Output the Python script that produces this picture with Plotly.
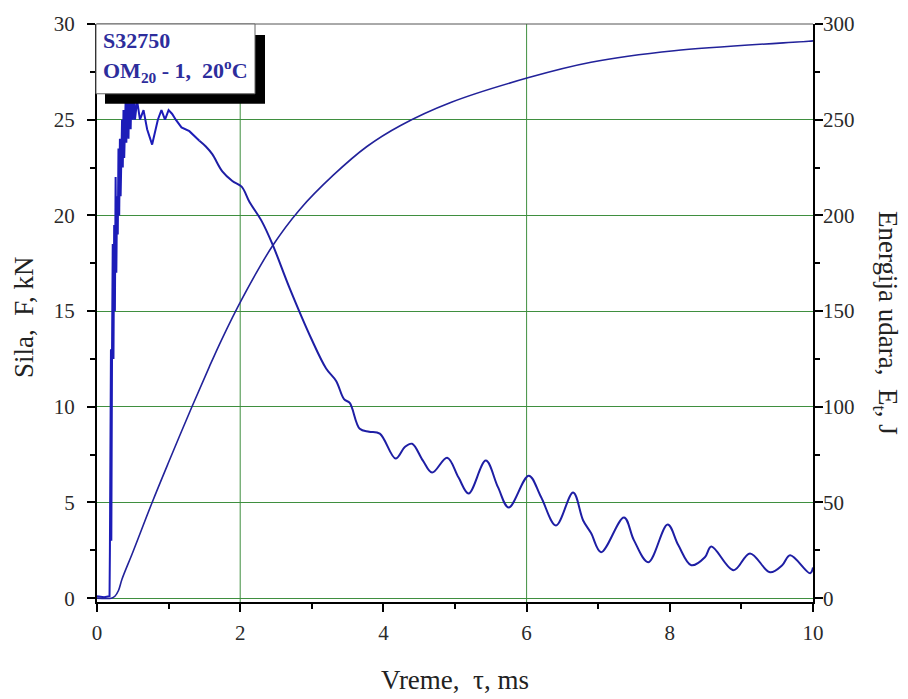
import plotly.graph_objects as go

# ---- data ----
t_force = [0.0, 0.10, 0.17, 0.175, 0.18, 0.185, 0.19, 0.195, 0.20, 0.205, 0.21, 0.22,
           0.23, 0.24, 0.25, 0.26, 0.27, 0.28, 0.29, 0.30, 0.31, 0.32, 0.33, 0.35,
           0.36, 0.37, 0.38, 0.40, 0.41, 0.42, 0.44, 0.45, 0.47, 0.48, 0.50, 0.52,
           0.53, 0.56, 0.60, 0.65, 0.70, 0.77, 0.85, 0.90, 0.95, 1.00, 1.05, 1.10,
           1.18, 1.29, 1.43, 1.52, 1.61, 1.75, 1.89, 2.02, 2.13, 2.30, 2.45, 2.69,
           3.00, 3.20, 3.34, 3.45, 3.53, 3.67, 3.80, 3.95, 4.17, 4.30, 4.40, 4.55,
           4.68, 4.89, 5.05, 5.19, 5.43, 5.60, 5.75, 6.03, 6.20, 6.41, 6.65, 6.79,
           6.90, 7.04, 7.36, 7.50, 7.70, 7.97, 8.12, 8.30, 8.49, 8.58, 8.89, 9.12,
           9.40, 9.57, 9.68, 9.96, 10.0]
force_kN = [0.1, 0.05, 0.1, 0.1, 2.4, 13.0, 2.4, 13.0, 3.0, 12.5, 13.0, 18.5,
            12.5, 19.5, 15.0, 22.0, 17.0, 21.0, 19.0, 23.5, 20.0, 24.0, 21.0, 25.0,
            22.5, 25.5, 23.0, 26.0, 23.8, 26.3, 24.0, 26.5, 24.5, 26.3, 25.0, 26.2,
            25.0, 26.0, 25.0, 25.5, 24.5, 23.7, 25.0, 25.5, 25.0, 25.5, 25.3, 25.0,
            24.6, 24.4, 23.9, 23.6, 23.2, 22.3, 21.8, 21.5, 20.7, 19.7, 18.5, 16.2,
            13.5, 12.0, 11.35, 10.4, 10.2, 8.85, 8.7, 8.6, 7.3, 7.9, 8.07, 7.2,
            6.56, 7.34, 6.3, 5.47, 7.19, 5.8, 4.74, 6.4, 5.3, 3.8, 5.52, 4.06,
            3.4, 2.4, 4.22, 3.02, 1.88, 3.85, 2.76, 1.72, 2.14, 2.7, 1.46, 2.34,
            1.35, 1.72, 2.24, 1.3, 1.6]

t_energy = [0.0, 0.20, 0.25, 0.30, 0.35, 0.50, 0.77, 1.00, 1.32, 1.57, 1.74, 2.02,
            2.45, 2.83, 3.30, 3.77, 4.24, 4.94, 6.03, 6.90, 8.06, 9.94, 10.0]
energy_J = [0.0, 0.0, 1.0, 4.0, 10.0, 24.0, 50.0, 71.0, 99.5, 121.0, 135.0, 156.0,
            184.0, 203.0, 221.0, 236.0, 247.0, 259.0, 272.0, 280.0, 286.0, 291.0, 291.2]

x_ticks = [0, 2, 4, 6, 8, 10]
y_ticks = [0, 5, 10, 15, 20, 25, 30]
y2_ticks = [0, 50, 100, 150, 200, 250, 300]
grid_x = [2, 6]

FONT = "Liberation Serif"
GRID = "#3f8f3f"
FCOL = "#1c1cb8"

# split index: spiky start drawn straight, smoother tail drawn as spline
split = next(i for i, t in enumerate(t_force) if t >= 1.43)

fig = go.Figure()
fig.add_trace(go.Scatter(x=t_force[:split + 1], y=force_kN[:split + 1], mode="lines",
                         line=dict(color=FCOL, width=2), yaxis="y"))
fig.add_trace(go.Scatter(x=t_force[split:], y=force_kN[split:], mode="lines",
                         line=dict(color="#1e1ea4", width=2, shape="spline", smoothing=1.0),
                         yaxis="y"))
fig.add_trace(go.Scatter(x=t_energy, y=energy_J, mode="lines",
                         line=dict(color="#22229a", width=1.6, shape="spline", smoothing=1.0),
                         yaxis="y2"))

tickfont = dict(family=FONT, size=21, color="#2a2a2a")
fig.update_layout(
    width=908, height=699,
    margin=dict(l=97, r=95, t=22, b=97),
    plot_bgcolor="white", paper_bgcolor="white",
    showlegend=False,
    xaxis=dict(range=[0, 10], tickvals=x_ticks, ticks="outside", ticklen=8, tickwidth=2,
               tickcolor="black", showline=True, linecolor="black", linewidth=2,
               showgrid=False, zeroline=False, tickfont=tickfont, ticklabelstandoff=3,
               minor=dict(dtick=1, ticks="outside", ticklen=5, tickwidth=1.5, tickcolor="black")),
    yaxis=dict(range=[-0.2, 30], tickvals=y_ticks, ticks="outside", ticklen=8, tickwidth=1.5,
               tickcolor="black", showline=True, linecolor="black", linewidth=2,
               showgrid=True, gridcolor=GRID, gridwidth=1, zeroline=False, tickfont=tickfont,
               ticklabelstandoff=8,
               minor=dict(dtick=2.5, ticks="outside", ticklen=5, tickwidth=1.5, tickcolor="black")),
    yaxis2=dict(range=[-2, 300], tickvals=y2_ticks, overlaying="y", side="right", anchor="x",
                ticks="outside", ticklen=8, tickwidth=1.5, tickcolor="black",
                showline=True, linecolor="black", linewidth=1.5, showgrid=False,
                zeroline=False, tickfont=tickfont, ticklabelstandoff=-4,
                minor=dict(dtick=25, ticks="outside", ticklen=5, tickwidth=1.5, tickcolor="black")),
)

# vertical grid lines
for gx in grid_x:
    fig.add_shape(type="line", xref="x", yref="paper", x0=gx, x1=gx, y0=0, y1=1,
                  line=dict(color=GRID, width=1), layer="below")
# top frame
fig.add_shape(type="line", xref="paper", yref="paper", x0=0, x1=1, y0=1, y1=1,
              line=dict(color="#555555", width=1))

# legend box with shadow (pixel -> paper)
def px(xp):
    return (xp - 97) / 716.0

def py(yp):
    return (602 - yp) / 580.0

fig.add_shape(type="rect", xref="paper", yref="paper", x0=px(105), x1=px(265),
              y0=py(102), y1=py(33), fillcolor="black", line=dict(width=0))
fig.add_shape(type="rect", xref="paper", yref="paper", x0=px(96), x1=px(255),
              y0=py(92), y1=py(22), fillcolor="white", line=dict(color="#666666", width=1))

fig.add_annotation(xref="paper", yref="paper", x=px(101), y=py(39), xanchor="left",
                   yanchor="middle", showarrow=False, text="<b>S32750</b>",
                   font=dict(family=FONT, size=22, color="#2d2d9c"))
fig.add_annotation(xref="paper", yref="paper", x=px(101), y=py(69), xanchor="left",
                   yanchor="middle", showarrow=False,
                   text="<b>OM<sub>20</sub> - 1,  20<sup>o</sup>C</b>",
                   font=dict(family=FONT, size=22, color="#2d2d9c"))

# axis titles
fig.add_annotation(xref="paper", yref="paper", x=px(455), y=py(680), showarrow=False,
                   text="Vreme,  τ, ms", font=dict(family=FONT, size=27, color="#222222"),
                   xanchor="center", yanchor="middle")
fig.add_annotation(xref="paper", yref="paper", x=px(24), y=py(316), showarrow=False,
                   text="Sila,  F, kN", textangle=-90,
                   font=dict(family=FONT, size=27, color="#222222"),
                   xanchor="center", yanchor="middle")
fig.add_annotation(xref="paper", yref="paper", x=px(886), y=py(322), showarrow=False,
                   text="Energija udara,  E<sub>t</sub>, J", textangle=90,
                   font=dict(family=FONT, size=27, color="#222222"),
                   xanchor="center", yanchor="middle")

fig.write_html("out.html", config={"displayModeBar": False},
               post_script="document.body.style.margin='0';")
